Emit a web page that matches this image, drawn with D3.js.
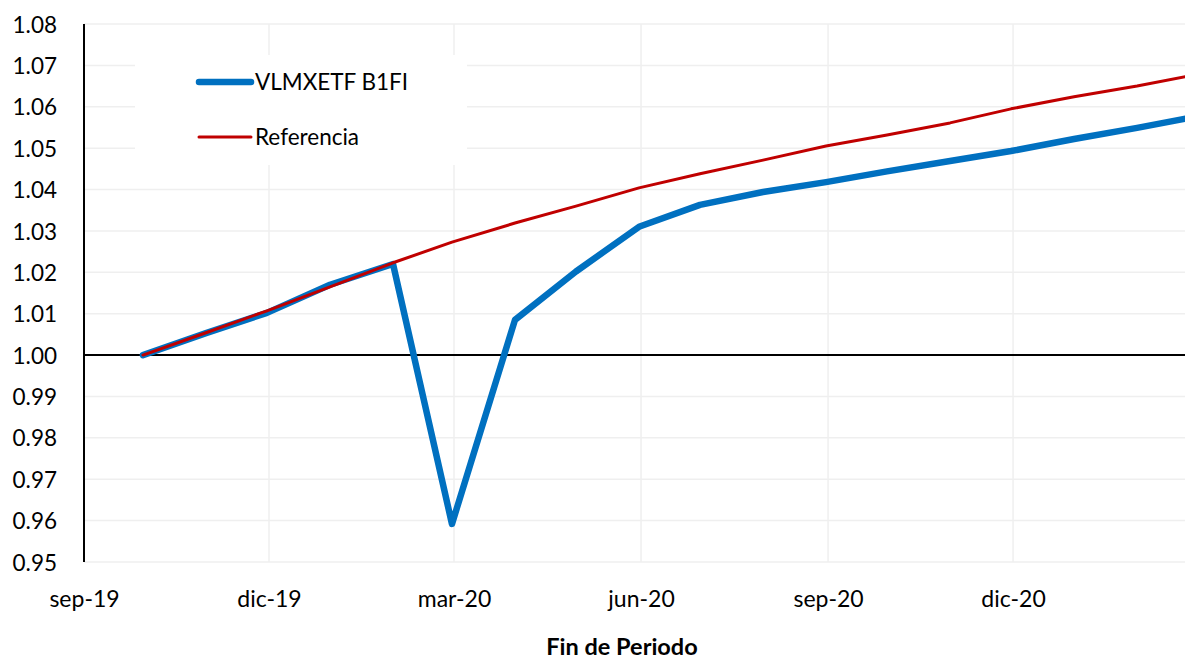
<!DOCTYPE html>
<html>
<head>
<meta charset="utf-8">
<script src="https://cdn.jsdelivr.net/npm/d3@7"></script>
<style>
  html, body { margin: 0; padding: 0; background: #fff; }
  svg { display: block; }
  text { font-family: Lato, "Open Sans", sans-serif; fill: #000; }
</style>
</head>
<body>
<svg id="chart" width="1185" height="659"></svg>
<script>
// ---- data ----
const dates = ["2019-09-30","2019-10-31","2019-11-30","2019-12-31","2020-01-31","2020-02-29",
               "2020-03-31","2020-04-30","2020-05-31","2020-06-30","2020-07-31","2020-08-31",
               "2020-09-30","2020-10-31","2020-11-30","2020-12-31","2021-01-31","2021-02-28"];
const fund = [1.0000, 1.0053, 1.0102, 1.0170, 1.0220, 0.9592,
              1.0085, 1.0202, 1.0310, 1.0363, 1.0394, 1.0418,
              1.0444, 1.0469, 1.0493, 1.0522, 1.0549, 1.0575];
const reference = [1.0000, 1.0054, 1.0107, 1.0165, 1.0223, 1.0273,
                   1.0319, 1.0360, 1.0404, 1.0438, 1.0471, 1.0505,
                   1.0532, 1.0561, 1.0595, 1.0624, 1.0650, 1.0677];
const tickDates = ["2019-09-01","2019-12-01","2020-03-01","2020-06-01","2020-09-01","2020-12-01"];
const tickLabels = ["sep-19","dic-19","mar-20","jun-20","sep-20","dic-20"];
const yTicks = [0.95,0.96,0.97,0.98,0.99,1.00,1.01,1.02,1.03,1.04,1.05,1.06,1.07,1.08];
const seriesNames = ["VLMXETF B1FI","Referencia"];
const xTitle = "Fin de Periodo";

// ---- layout ----
const parse = d3.utcParse("%Y-%m-%d");
const svg = d3.select("#chart");
const plotLeft = 84, plotTop = 24, plotBottom = 562;

const x = d3.scaleUtc()
  .domain([parse("2019-09-01"), parse("2021-02-28")])
  .range([plotLeft, 1194]);
const y = d3.scaleLinear().domain([0.95, 1.08]).range([plotBottom, plotTop]);

const gridColor = "#efefef";

// horizontal gridlines
svg.append("g").selectAll("line").data(yTicks).join("line")
  .attr("x1", plotLeft).attr("x2", 1185)
  .attr("y1", d => y(d)).attr("y2", d => y(d))
  .attr("stroke", gridColor).attr("stroke-width", 1.5);

// vertical gridlines
svg.append("g").selectAll("line").data(tickDates.slice(1)).join("line")
  .attr("x1", d => x(parse(d))).attr("x2", d => x(parse(d)))
  .attr("y1", plotTop).attr("y2", plotBottom)
  .attr("stroke", gridColor).attr("stroke-width", 1.5);

// legend box (covers gridlines)
svg.append("rect").attr("x", 135).attr("y", 55).attr("width", 332).attr("height", 110)
  .attr("fill", "#fff");

// y axis labels
const yAxis = d3.axisLeft(y).tickValues(yTicks).tickFormat(d3.format(".2f")).tickSize(0).tickPadding(0);
const gy = svg.append("g").attr("transform", `translate(57,0)`).call(yAxis);
gy.select(".domain").remove();
gy.selectAll("text").attr("font-size", 22.5).attr("font-family", "Lato, sans-serif").attr("fill", "#000").attr("dy", "0.36em");

// x axis labels
const xAxis = d3.axisBottom(x).tickValues(tickDates.map(parse))
  .tickFormat((d, i) => tickLabels[i]).tickSize(0).tickPadding(0);
const gx = svg.append("g").attr("transform", `translate(0,607)`).call(xAxis);
gx.select(".domain").remove();
gx.selectAll("text").attr("font-size", 23).attr("font-family", "Lato, sans-serif").attr("fill", "#000").attr("y", 0).attr("dy", 0);

// axis lines
svg.append("line").attr("x1", plotLeft).attr("x2", 1185).attr("y1", y(1.0)).attr("y2", y(1.0))
  .attr("stroke", "#000").attr("stroke-width", 2);
svg.append("line").attr("x1", plotLeft).attr("x2", plotLeft).attr("y1", plotTop).attr("y2", plotBottom)
  .attr("stroke", "#000").attr("stroke-width", 2);

// lines
const line = d3.line().x((d, i) => x(parse(dates[i]))).y(d => y(d));
svg.append("path").datum(fund).attr("d", line)
  .attr("fill", "none").attr("stroke", "#0070C0").attr("stroke-width", 6.5)
  .attr("stroke-linejoin", "round").attr("stroke-linecap", "round");
svg.append("path").datum(reference).attr("d", line)
  .attr("fill", "none").attr("stroke", "#C00000").attr("stroke-width", 3)
  .attr("stroke-linejoin", "round").attr("stroke-linecap", "round");

// legend
const legend = [
  {name: seriesNames[0], color: "#0070C0", w: 6.5, y: 82},
  {name: seriesNames[1], color: "#C00000", w: 3, y: 137}
];
legend.forEach(l => {
  svg.append("line").attr("x1", 199).attr("x2", 251).attr("y1", l.y).attr("y2", l.y)
    .attr("stroke", l.color).attr("stroke-width", l.w).attr("stroke-linecap", "round");
  svg.append("text").attr("x", 255).attr("y", l.y).attr("dy", "0.36em")
    .attr("font-size", 22.5).text(l.name);
});

// x title
svg.append("text").attr("x", 622).attr("y", 655).attr("text-anchor", "middle")
  .attr("font-size", 23.5).attr("font-weight", "bold").text(xTitle);
</script>
</body>
</html>
